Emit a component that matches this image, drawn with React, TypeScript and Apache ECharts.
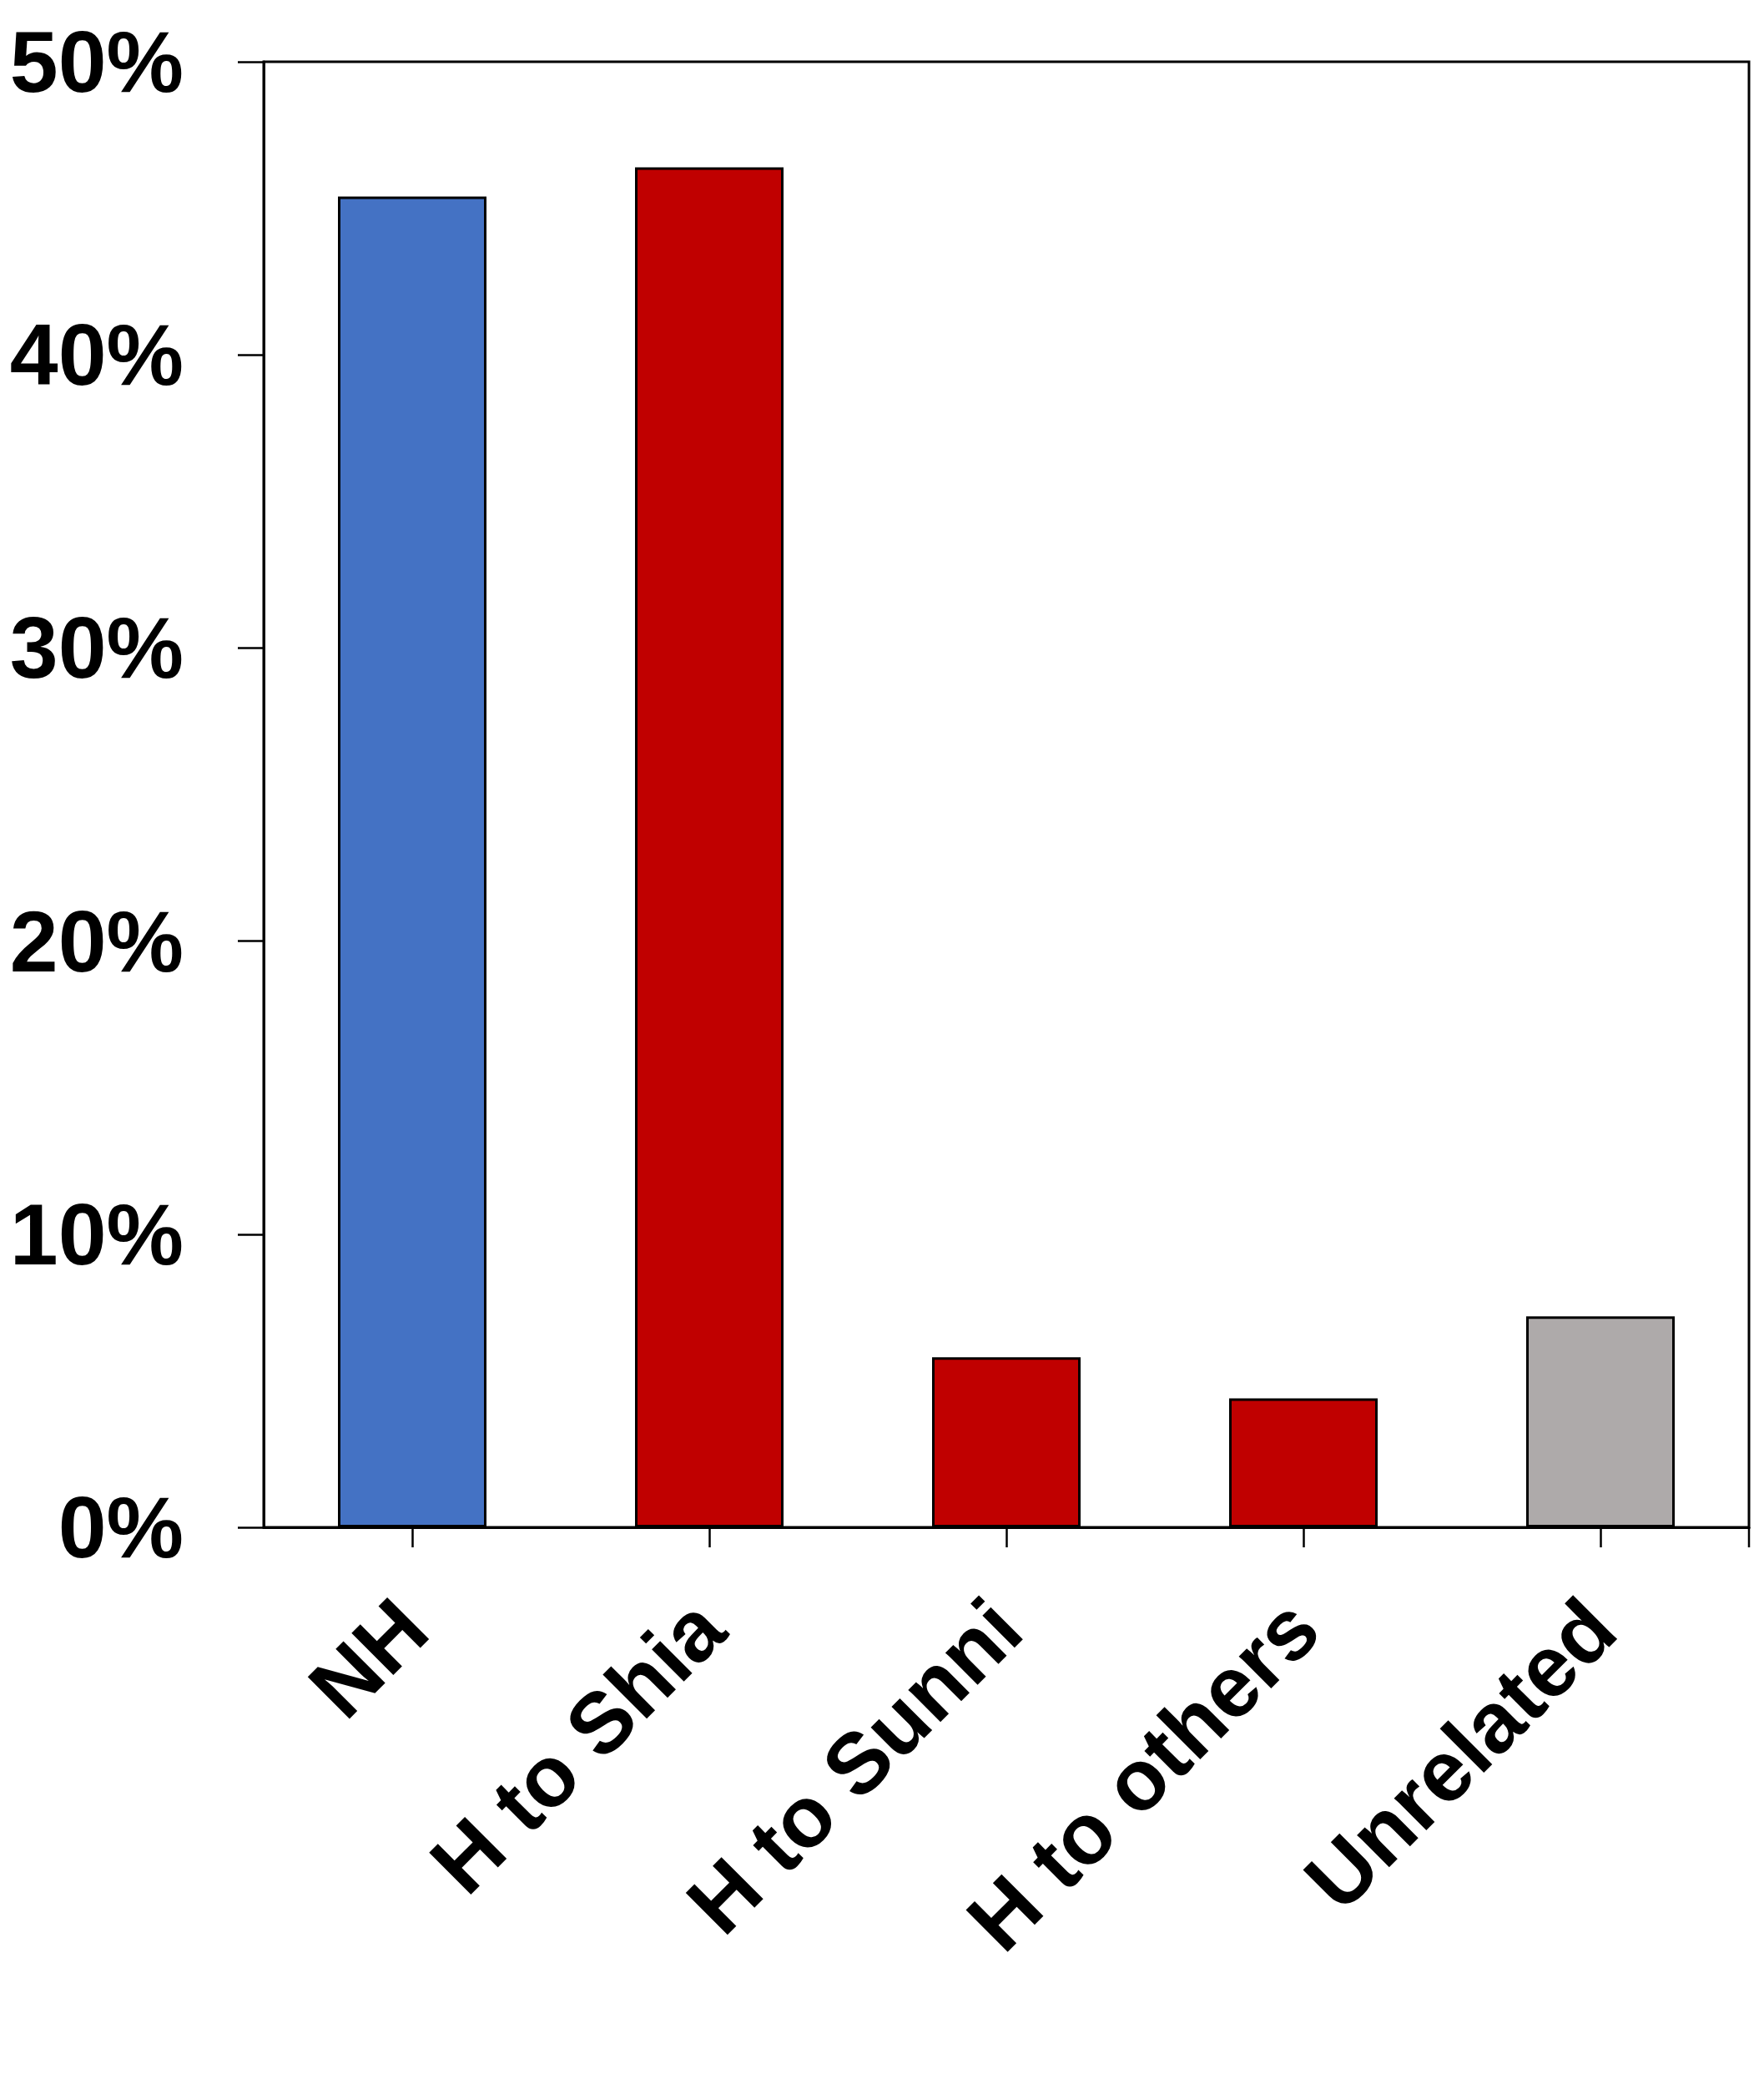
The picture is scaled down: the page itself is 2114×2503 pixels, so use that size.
import React, { useEffect, useRef } from "react";
import * as echarts from "echarts";

const categories = ["NH", "H to Shia", "H to Sunni", "H to others", "Unrelated"];
const values = [45.4, 46.4, 5.8, 4.4, 7.2];
const barColors = ["#4472C4", "#C00000", "#C00000", "#C00000", "#AEAAAA"];
const yTicks = { min: 0, max: 50, interval: 10 };

const W = 2114;
const H = 2503;
const GRID = { left: 316, right: 18, top: 74, bottom: 673 };

export default function App() {
  const ref = useRef<HTMLDivElement>(null);
  useEffect(() => {
    if (!ref.current) return;
    const chart = echarts.init(ref.current, undefined, { renderer: "svg" });
    const font = "'Liberation Sans', Arial, sans-serif";
    const rightX = W - GRID.right;
    const bottomY = H - GRID.bottom;
    chart.setOption({
      animation: false,
      backgroundColor: "#ffffff",
      grid: {
        left: GRID.left,
        right: GRID.right,
        top: GRID.top,
        bottom: GRID.bottom,
        show: true,
        borderColor: "#000",
        borderWidth: 3,
        backgroundColor: "transparent",
      },
      xAxis: {
        type: "category",
        data: categories,
        boundaryGap: true,
        axisLine: { show: true, lineStyle: { color: "#000", width: 3 } },
        axisTick: { show: true, alignWithLabel: true, length: 24, inside: false, lineStyle: { color: "#000", width: 2.5 } },
        axisLabel: {
          rotate: 45,
          margin: 104,
          fontSize: 103,
          fontWeight: "bold",
          fontFamily: font,
          color: "#000",
          interval: 0,
        },
        splitLine: { show: false },
      },
      yAxis: {
        type: "value",
        min: yTicks.min,
        max: yTicks.max,
        interval: yTicks.interval,
        axisLine: { show: true, lineStyle: { color: "#000", width: 3 } },
        axisTick: { show: true, length: 31, inside: false, lineStyle: { color: "#000", width: 2.5 } },
        axisLabel: {
          margin: 96,
          fontSize: 104,
          fontWeight: "bold",
          fontFamily: font,
          color: "#000",
          formatter: "{value}%",
        },
        splitLine: { show: false },
      },
      series: [
        {
          type: "bar",
          barWidth: "50%",
          data: values.map((v, i) => ({
            value: v,
            itemStyle: { color: barColors[i], borderColor: "#000", borderWidth: 3 },
          })),
        },
      ],
      graphic: [
        {
          type: "line",
          shape: { x1: rightX, y1: bottomY, x2: rightX, y2: bottomY + 24 },
          style: { stroke: "#000", lineWidth: 2.5 },
        },
      ],
    });
    return () => chart.dispose();
  }, []);
  return (
    <div
      ref={ref}
      style={{ position: "absolute", left: 0, top: 0, width: W, height: H, background: "#fff" }}
    />
  );
}
